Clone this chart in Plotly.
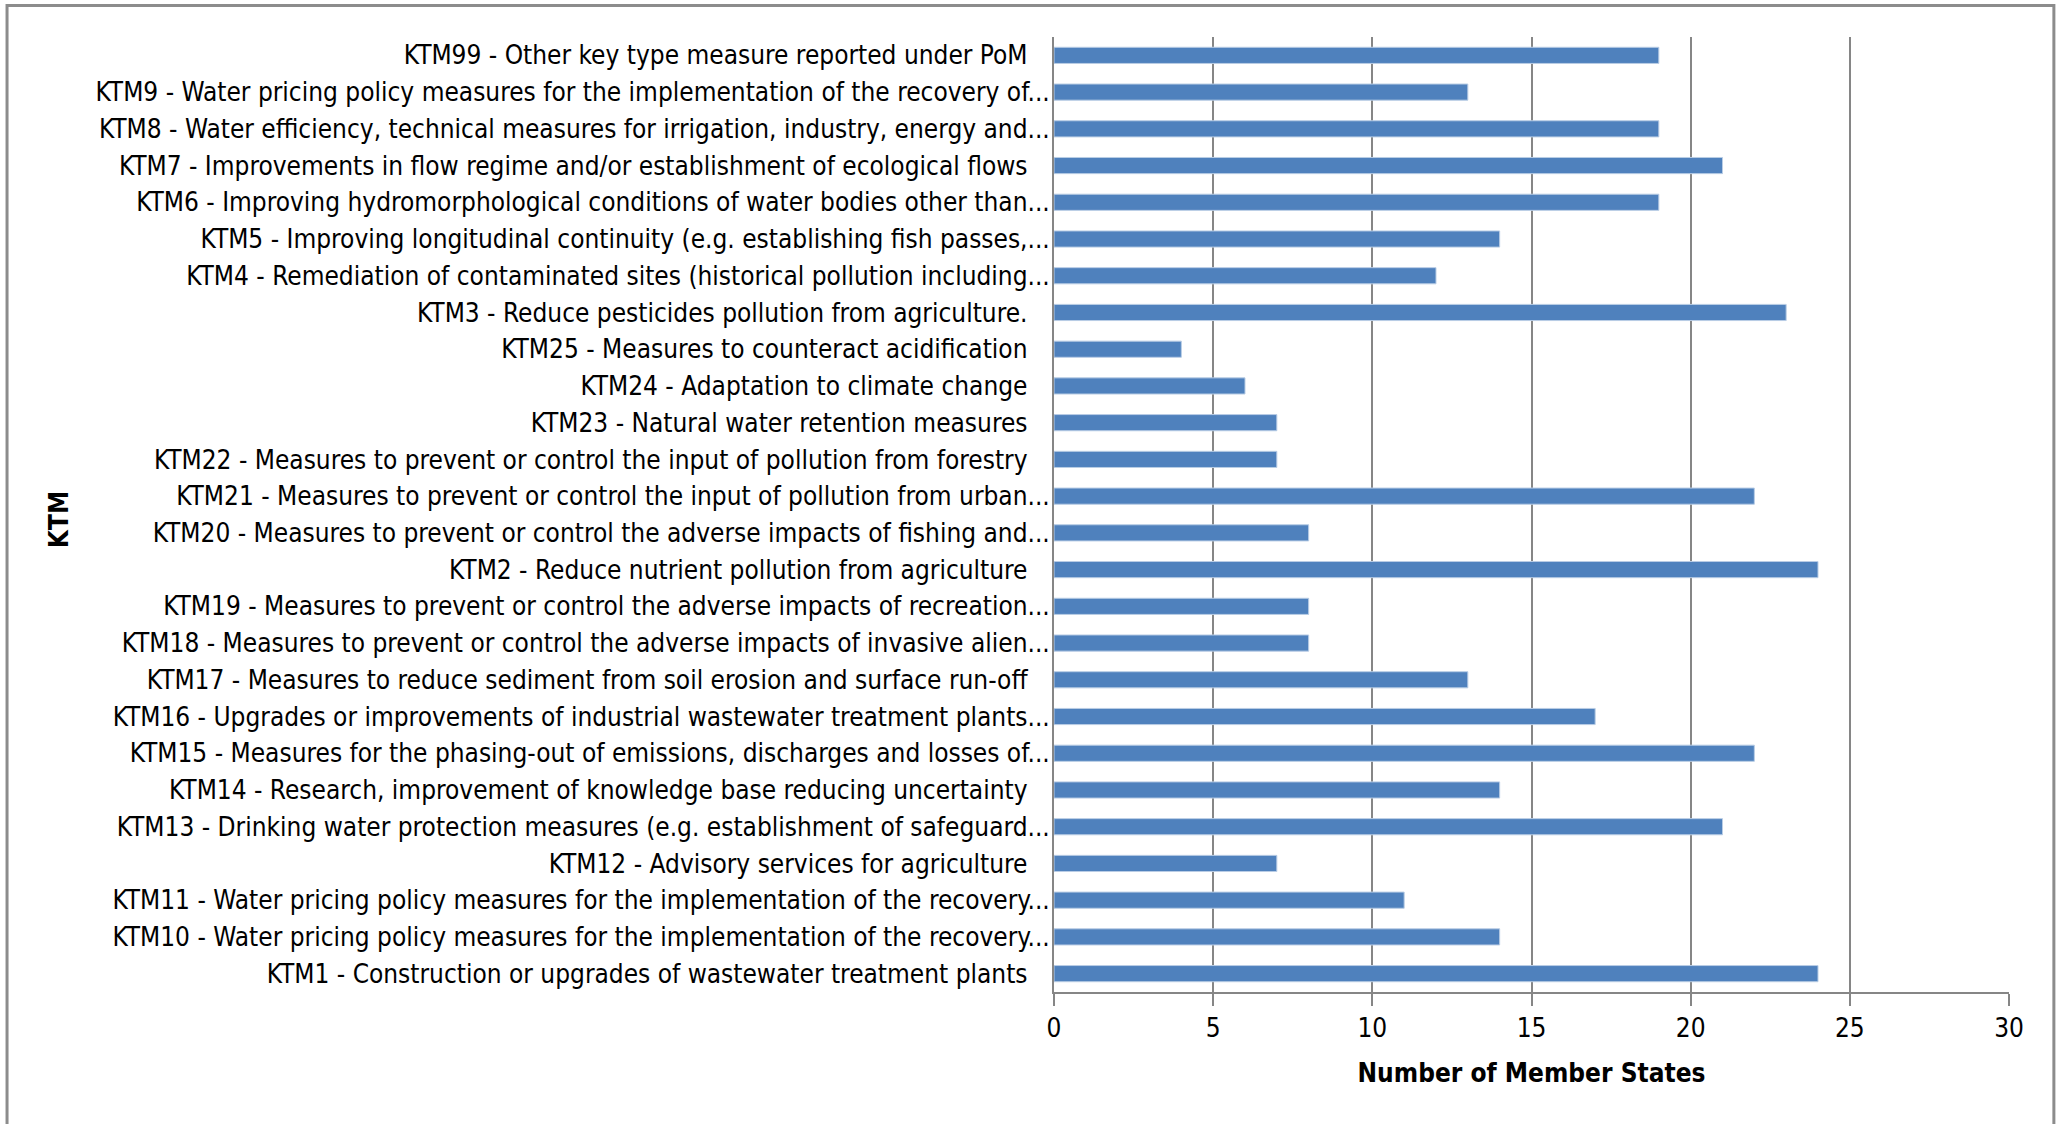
import plotly.graph_objects as go

categories_top_to_bottom = [
    "KTM99 - Other key type measure reported under PoM",
    "KTM9 - Water pricing policy measures for the implementation of the recovery of...",
    "KTM8 - Water efficiency, technical measures for irrigation, industry, energy and...",
    "KTM7 - Improvements in flow regime and/or establishment of ecological flows",
    "KTM6 - Improving hydromorphological conditions of water bodies other than...",
    "KTM5 - Improving longitudinal continuity (e.g. establishing fish passes,...",
    "KTM4 - Remediation of contaminated sites (historical pollution including...",
    "KTM3 - Reduce pesticides pollution from agriculture.",
    "KTM25 - Measures to counteract acidification",
    "KTM24 - Adaptation to climate change",
    "KTM23 - Natural water retention measures",
    "KTM22 - Measures to prevent or control the input of pollution from forestry",
    "KTM21 - Measures to prevent or control the input of pollution from urban...",
    "KTM20 - Measures to prevent or control the adverse impacts of fishing and...",
    "KTM2 - Reduce nutrient pollution from agriculture",
    "KTM19 - Measures to prevent or control the adverse impacts of recreation...",
    "KTM18 - Measures to prevent or control the adverse impacts of invasive alien...",
    "KTM17 - Measures to reduce sediment from soil erosion and surface run-off",
    "KTM16 - Upgrades or improvements of industrial wastewater treatment plants...",
    "KTM15 - Measures for the phasing-out of emissions, discharges and losses of...",
    "KTM14 - Research, improvement of knowledge base reducing uncertainty",
    "KTM13 - Drinking water protection measures (e.g. establishment of safeguard...",
    "KTM12 - Advisory services for agriculture",
    "KTM11 - Water pricing policy measures for the implementation of the recovery...",
    "KTM10 - Water pricing policy measures for the implementation of the recovery...",
    "KTM1 - Construction or upgrades of wastewater treatment plants",
]
values_top_to_bottom = [19, 13, 19, 21, 19, 14, 12, 23, 4, 6, 7, 7, 22, 8, 24, 8, 8, 13, 17, 22, 14, 21, 7, 11, 14, 24]
x_ticks = [0, 5, 10, 15, 20, 25, 30]

# Plotly draws the first category at the bottom
cats = categories_top_to_bottom[::-1]
vals = values_top_to_bottom[::-1]
labels = [c if c.endswith("...") else c + "\u00a0\u00a0\u00a0" for c in cats]

FONT = "DejaVu Sans Condensed, Liberation Sans Narrow, sans-serif"
FS = 26

fig = go.Figure(go.Bar(
    x=vals, y=labels, orientation="h",
    marker=dict(color="#4F81BD", line=dict(color="#B9CDE5", width=1)),
    hoverinfo="x+y",
))

fig.update_layout(
    width=2063, height=1124,
    margin=dict(l=1054, r=54, t=37, b=132, autoexpand=False),
    paper_bgcolor="white", plot_bgcolor="white",
    bargap=0.56,
    showlegend=False,
    font=dict(family=FONT, size=FS, color="#000000"),
    xaxis=dict(
        range=[0, 30], tickvals=x_ticks, ticktext=[str(t) for t in x_ticks],
        showgrid=True, gridcolor="#868686", gridwidth=2,
        showline=True, linecolor="#868686", linewidth=2,
        ticks="outside", ticklen=12, tickcolor="#868686", tickwidth=2,
        zeroline=False,
        tickfont=dict(family=FONT, size=FS, color="#000000"),
        title=dict(text="<b>Number of Member States</b>", font=dict(family=FONT, size=FS), standoff=22),
    ),
    yaxis=dict(
        type="category", categoryorder="array", categoryarray=labels,
        showline=True, linecolor="#868686", linewidth=2,
        showgrid=False, ticks="", ticklabelstandoff=-3,
        tickfont=dict(family=FONT, size=FS, color="#000000"),
    ),
)

fig.add_annotation(
    text="<b>KTM</b>", xref="paper", yref="paper",
    x=-1.042, y=0.495, xanchor="center", yanchor="middle",
    showarrow=False, textangle=-90,
    font=dict(family=FONT, size=FS, color="#000000"),
)

# outer chart frame
fig.add_shape(type="rect", xref="paper", yref="paper",
              x0=-1.0963, x1=1.047, y0=-0.16, y1=1.033,
              line=dict(color="#8C8C8C", width=3), layer="below")

fig.write_html("out.html", config={"displayModeBar": False},
               post_script="document.body.style.margin='0';document.body.style.overflow='hidden';")
